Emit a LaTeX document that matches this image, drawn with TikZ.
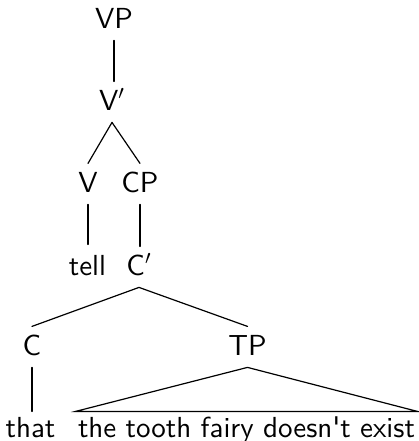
\documentclass[tikz,border=0pt]{standalone}
\usepackage{fontspec}
\newfontfamily\treefont{lmsans10-regular}[Extension=.otf]
\begin{document}
\begin{tikzpicture}[x=0.5pt,y=-0.5pt,
  lbl/.style={font=\fontsize{14.5}{17}\treefont, text height=10.1pt, text depth=2pt, inner ysep=4pt, inner xsep=1pt, anchor=base},
  leafnode/.style={lbl, inner ysep=2.5pt},
  edge/.style={line width=0.6pt, line cap=round}]
\useasboundingbox (0,0) rectangle (419,441);
\node[lbl] (VP) at (114,28) {VP};
\node[lbl] (Vbar) at (112,110) {V$'$};
\node[lbl] (V) at (88,192) {V};
\node[lbl] (CP) at (140,192) {CP};
\node[lbl, inner ysep=5pt] (tell) at (87.5,275) {tell};
\node[lbl] (Cbar) at (139,275) {C$'$};
\node[lbl] (C) at (32,355) {C};
\node[lbl] (TP) at (247.5,355) {TP};
\node[leafnode] (that) at (30.5,437) {that};
\node[leafnode] (leaf) at (246.5,437) {\makebox[168.5pt][s]{the tooth fairy doesn\textquotesingle t exist}};
\draw[edge] (VP.south) -- (VP.south |- Vbar.north);
\draw[edge] (Vbar.south) -- (V.north);
\draw[edge] (Vbar.south) -- (CP.north);
\draw[edge] (V.south) -- (V.south |- tell.north);
\draw[edge] (CP.south) -- (CP.south |- Cbar.north);
\draw[edge] (Cbar.south) -- (C.north);
\draw[edge] (Cbar.south) -- (TP.north);
\draw[edge] (C.south) -- (C.south |- that.north);
\draw[edge] (TP.south) -- (leaf.north west) -- (leaf.north east) -- cycle;
\end{tikzpicture}
\end{document}
